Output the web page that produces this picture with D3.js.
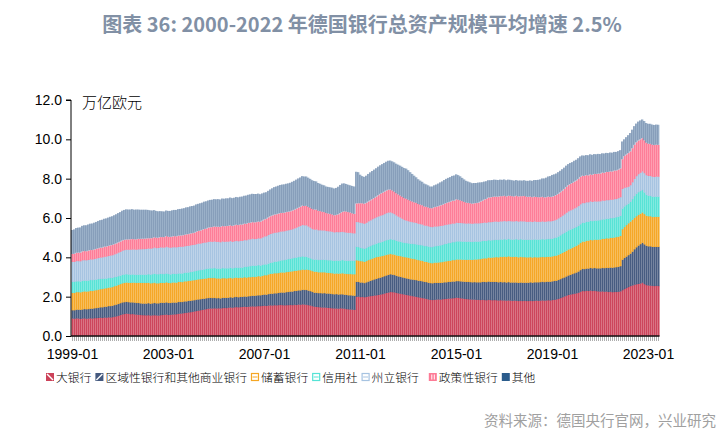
<!DOCTYPE html>
<html><head><meta charset="utf-8">
<script src="https://cdn.jsdelivr.net/npm/d3@7/dist/d3.min.js"></script>
<style>body{margin:0;background:#fff}svg{display:block}</style>
</head><body>
<svg id="c" width="724" height="443"></svg>
<script>
// ---------- DATA (万亿欧元, monthly, 1999-01 .. 2023-06) ----------
const firstMonth = "1999-01";
const monthCount = 294;
const xTickLabels = ["1999-01","2003-01","2007-01","2011-01","2015-01","2019-01","2023-01"];
const yTickValues = [0,2,4,6,8,10,12];
const seriesNames = ["大银行","区域性银行和其他商业银行","储蓄银行","信用社","州立银行","政策性银行","其他"];
const seriesColors = ["#cc4259","#44597f","#f5a623","#55e3d6","#a6c3e1","#fd7b96","#46678f"];

const bigBanks = [
.90,.89,.91,.90,.88,.90,.91,.89,.90,.91,.90,.92,
.92,.93,.94,.93,.95,.94,.96,.95,.97,.99,1.01,1.04,
1.08,1.11,1.13,1.15,1.14,1.12,1.13,1.11,1.10,1.09,1.08,1.07,
1.07,1.06,1.07,1.05,1.06,1.07,1.06,1.05,1.07,1.08,1.09,1.10,
1.08,1.09,1.10,1.11,1.12,1.14,1.15,1.16,1.18,1.19,1.21,1.22,
1.24,1.26,1.28,1.30,1.32,1.34,1.36,1.38,1.40,1.41,1.41,1.42,
1.41,1.42,1.41,1.43,1.44,1.43,1.45,1.46,1.45,1.47,1.48,1.47,
1.48,1.49,1.50,1.49,1.50,1.51,1.52,1.51,1.52,1.53,1.53,1.54,
1.55,1.54,1.56,1.57,1.56,1.58,1.57,1.58,1.59,1.58,1.57,1.58,
1.58,1.59,1.58,1.60,1.59,1.61,1.60,1.62,1.61,1.60,1.58,1.56,
1.53,1.50,1.49,1.48,1.47,1.46,1.46,1.45,1.44,1.43,1.42,1.41,
1.41,1.40,1.42,1.41,1.40,1.38,1.37,1.36,1.35,1.34,2.00,2.01,
1.99,2.00,1.98,2.00,2.02,2.04,2.05,2.07,2.08,2.10,2.12,2.14,
2.17,2.20,2.22,2.25,2.24,2.23,2.20,2.18,2.16,2.14,2.12,2.10,
2.08,2.06,2.04,2.02,2.00,1.98,1.96,1.94,1.92,1.90,1.87,1.85,
1.84,1.85,1.86,1.87,1.86,1.88,1.89,1.90,1.91,1.92,1.93,1.94,
1.96,1.95,1.93,1.92,1.90,1.89,1.88,1.87,1.86,1.86,1.85,1.85,
1.84,1.85,1.84,1.83,1.85,1.84,1.83,1.84,1.83,1.82,1.83,1.82,
1.82,1.81,1.82,1.81,1.80,1.81,1.80,1.79,1.80,1.79,1.80,1.79,
1.79,1.80,1.79,1.80,1.81,1.80,1.81,1.82,1.81,1.82,1.83,1.82,
1.84,1.85,1.87,1.90,1.94,1.98,2.02,2.06,2.10,2.12,2.14,2.16,
2.18,2.21,2.26,2.30,2.29,2.31,2.30,2.32,2.30,2.31,2.29,2.28,
2.27,2.28,2.26,2.27,2.25,2.26,2.24,2.25,2.25,2.26,2.28,2.34,
2.40,2.45,2.50,2.55,2.58,2.62,2.64,2.66,2.68,2.72,2.65,2.60,
2.58,2.57,2.56,2.55,2.56,2.55];

const regionalBanks = [
.42,.43,.44,.45,.46,.46,.47,.48,.48,.49,.50,.50,
.51,.52,.53,.54,.55,.56,.57,.58,.58,.59,.60,.60,
.60,.61,.60,.60,.59,.60,.59,.60,.59,.60,.59,.59,
.59,.60,.61,.60,.61,.62,.61,.62,.63,.62,.61,.62,
.61,.60,.61,.60,.59,.60,.59,.58,.59,.58,.59,.58,
.58,.57,.58,.57,.56,.56,.55,.55,.54,.54,.53,.53,
.52,.52,.51,.52,.51,.52,.51,.52,.51,.52,.52,.51,
.52,.51,.52,.52,.53,.53,.54,.54,.55,.55,.55,.56,
.57,.57,.58,.59,.60,.60,.61,.62,.63,.64,.65,.66,
.67,.68,.69,.70,.71,.72,.73,.74,.74,.75,.74,.73,
.72,.71,.72,.71,.72,.72,.73,.72,.73,.73,.72,.72,
.73,.72,.71,.72,.71,.72,.71,.72,.72,.72,.76,.75,
.74,.73,.72,.74,.76,.78,.80,.82,.84,.85,.86,.87,
.88,.89,.90,.90,.89,.88,.87,.86,.86,.85,.84,.84,
.84,.83,.84,.84,.85,.84,.85,.85,.84,.85,.85,.85,
.85,.86,.85,.84,.85,.84,.85,.84,.85,.84,.85,.84,
.84,.85,.86,.86,.87,.87,.88,.88,.88,.89,.89,.89,
.90,.91,.92,.92,.93,.92,.93,.92,.93,.92,.93,.92,
.93,.92,.93,.92,.93,.92,.93,.92,.93,.93,.92,.93,
.93,.94,.93,.94,.93,.94,.94,.95,.94,.95,.94,.95,
.95,.96,.95,.96,.96,.97,.97,.98,.99,1.00,1.02,1.04,
1.06,1.08,1.10,1.12,1.12,1.13,1.14,1.15,1.15,1.16,1.16,1.17,
1.18,1.19,1.20,1.21,1.22,1.23,1.24,1.25,1.26,1.27,1.28,1.55,
1.58,1.60,1.62,1.65,1.72,1.80,1.88,1.95,2.00,2.03,2.02,2.00,
1.99,2.00,1.98,1.99,1.98,1.99];

const savingsBanks = [
.88,.88,.89,.89,.89,.90,.90,.90,.90,.91,.90,.91,
.91,.92,.92,.93,.93,.94,.94,.95,.95,.96,.96,.97,
.97,.97,.98,.98,.99,.99,1.00,1.01,1.02,1.03,1.04,1.05,
1.05,1.05,1.04,1.04,1.03,1.03,1.02,1.02,1.01,1.01,1.01,1.02,
1.02,1.01,1.02,1.02,1.01,1.02,1.02,1.01,1.02,1.02,1.01,1.02,
1.02,1.02,1.01,1.02,1.02,1.01,1.02,1.01,1.02,1.01,1.02,1.01,
1.01,1.00,1.01,1.00,1.00,.99,.99,.99,.98,.98,.98,.98,
.98,.97,.98,.97,.97,.96,.96,.96,.96,.97,.96,.97,
.98,.99,1.00,1.01,1.02,1.02,1.02,1.01,1.02,1.02,1.02,1.02,
1.02,1.02,1.03,1.02,1.03,1.02,1.03,1.03,1.02,1.04,1.05,1.06,
1.06,1.07,1.07,1.06,1.06,1.07,1.06,1.06,1.05,1.05,1.06,1.05,
1.05,1.06,1.06,1.07,1.07,1.07,1.08,1.08,1.08,1.09,1.10,1.09,
1.09,1.08,1.08,1.08,1.09,1.09,1.10,1.10,1.10,1.09,1.08,1.07,
1.06,1.05,1.04,1.03,1.03,1.04,1.04,1.05,1.05,1.06,1.06,1.07,
1.07,1.07,1.06,1.06,1.05,1.05,1.04,1.04,1.03,1.03,1.03,1.02,
1.02,1.03,1.03,1.04,1.05,1.05,1.06,1.07,1.07,1.08,1.09,1.09,
1.10,1.10,1.11,1.11,1.12,1.12,1.13,1.14,1.14,1.15,1.16,1.17,
1.18,1.19,1.20,1.21,1.22,1.23,1.24,1.25,1.26,1.27,1.28,1.29,
1.30,1.30,1.31,1.31,1.30,1.31,1.31,1.30,1.31,1.30,1.30,1.29,
1.29,1.28,1.28,1.28,1.27,1.27,1.27,1.26,1.27,1.26,1.27,1.27,
1.27,1.27,1.28,1.28,1.29,1.29,1.30,1.31,1.32,1.33,1.34,1.35,
1.36,1.37,1.38,1.39,1.40,1.41,1.42,1.43,1.43,1.44,1.45,1.46,
1.47,1.48,1.49,1.50,1.50,1.51,1.52,1.52,1.53,1.53,1.54,1.55,
1.57,1.60,1.62,1.63,1.62,1.60,1.58,1.56,1.55,1.54,1.54,1.53,
1.53,1.53,1.52,1.53,1.53,1.53];

const creditCoops = [
.56,.56,.55,.55,.55,.56,.55,.55,.55,.55,.55,.54,
.54,.53,.52,.51,.50,.49,.48,.48,.47,.46,.45,.44,
.43,.43,.43,.42,.42,.42,.42,.41,.41,.41,.42,.42,
.42,.42,.43,.44,.45,.46,.46,.46,.46,.45,.45,.45,
.45,.44,.44,.44,.44,.43,.43,.44,.43,.44,.43,.44,
.44,.45,.45,.46,.46,.47,.47,.48,.48,.49,.49,.50,
.50,.50,.50,.51,.50,.51,.50,.51,.51,.50,.51,.51,
.51,.52,.53,.54,.55,.56,.57,.57,.56,.56,.55,.55,
.55,.55,.55,.56,.57,.58,.59,.60,.61,.62,.63,.64,
.65,.65,.66,.66,.67,.67,.67,.67,.66,.65,.63,.61,
.60,.61,.62,.62,.63,.63,.64,.64,.64,.65,.65,.65,
.66,.66,.66,.67,.67,.67,.67,.68,.68,.68,.68,.68,
.67,.66,.66,.66,.67,.67,.68,.68,.69,.70,.71,.72,
.73,.74,.75,.75,.75,.74,.74,.73,.73,.72,.72,.72,
.73,.74,.75,.76,.77,.77,.78,.79,.79,.80,.81,.81,
.82,.83,.84,.85,.86,.87,.88,.89,.90,.90,.91,.91,
.92,.92,.92,.92,.92,.92,.92,.91,.91,.91,.91,.90,
.90,.89,.89,.88,.88,.88,.88,.88,.88,.88,.88,.88,
.88,.88,.88,.88,.88,.88,.89,.89,.89,.89,.89,.89,
.89,.89,.90,.90,.90,.90,.90,.90,.90,.90,.90,.90,
.90,.91,.92,.93,.94,.95,.96,.97,.97,.97,.96,.96,
.95,.95,.95,.95,.96,.96,.96,.97,.97,.97,.98,.98,
.98,.99,.99,.99,1.00,1.00,1.00,1.01,1.01,1.02,1.02,1.05,
1.05,1.02,1.00,1.00,1.05,1.10,1.14,1.15,1.15,1.14,1.10,1.06,
1.04,1.03,1.03,1.02,1.03,1.02];

const landesbanks = [
1.02,1.02,1.03,1.03,1.03,1.04,1.04,1.04,1.05,1.05,1.05,1.06,
1.07,1.08,1.09,1.10,1.11,1.12,1.13,1.14,1.15,1.16,1.18,1.20,
1.21,1.23,1.24,1.25,1.26,1.27,1.27,1.28,1.28,1.29,1.29,1.30,
1.30,1.31,1.31,1.32,1.32,1.33,1.33,1.34,1.35,1.35,1.35,1.36,
1.36,1.36,1.35,1.36,1.36,1.35,1.36,1.36,1.35,1.36,1.36,1.36,
1.36,1.35,1.36,1.36,1.35,1.36,1.36,1.35,1.36,1.36,1.35,1.36,
1.36,1.36,1.35,1.36,1.35,1.36,1.36,1.36,1.35,1.36,1.36,1.36,
1.36,1.36,1.36,1.36,1.37,1.37,1.37,1.36,1.36,1.37,1.38,1.40,
1.42,1.44,1.46,1.47,1.48,1.48,1.48,1.48,1.47,1.47,1.47,1.47,
1.47,1.47,1.48,1.50,1.52,1.55,1.58,1.60,1.61,1.60,1.58,1.56,
1.54,1.53,1.53,1.52,1.51,1.50,1.49,1.48,1.48,1.47,1.46,1.45,
1.45,1.45,1.45,1.44,1.44,1.43,1.43,1.42,1.41,1.40,1.27,1.27,
1.28,1.28,1.28,1.29,1.30,1.31,1.32,1.33,1.34,1.35,1.36,1.36,
1.37,1.38,1.38,1.37,1.35,1.32,1.29,1.26,1.23,1.20,1.17,1.15,
1.13,1.12,1.11,1.10,1.09,1.08,1.07,1.06,1.05,1.04,1.03,1.03,
1.02,1.01,1.00,.99,.99,.98,.97,.97,.96,.96,.95,.95,
.95,.94,.94,.94,.93,.93,.93,.93,.93,.93,.93,.93,
.93,.92,.93,.93,.92,.93,.93,.94,.93,.93,.92,.93,
.93,.93,.92,.93,.93,.92,.93,.93,.92,.93,.93,.92,
.92,.92,.91,.92,.91,.91,.90,.91,.90,.90,.91,.90,
.90,.90,.91,.92,.93,.94,.95,.96,.97,.98,.98,.99,
1.00,1.01,1.02,1.01,1.00,1.00,.99,.99,.98,.98,.97,.97,
.96,.96,.95,.95,.95,.94,.94,.94,.93,.94,.95,1.00,
.95,.90,.86,.85,.86,.88,.90,.92,.93,.95,.98,1.00,
1.01,1.02,1.02,1.01,1.02,1.02];

const policyBanks = [
.39,.40,.41,.42,.43,.44,.45,.45,.46,.46,.47,.47,
.48,.48,.49,.49,.50,.50,.50,.51,.51,.51,.51,.51,
.51,.51,.51,.51,.51,.52,.52,.51,.52,.52,.52,.52,
.52,.52,.51,.52,.51,.51,.52,.51,.51,.52,.52,.53,
.53,.54,.54,.55,.55,.56,.56,.57,.57,.58,.58,.59,
.59,.60,.62,.63,.65,.66,.68,.69,.71,.72,.74,.75,
.76,.76,.77,.77,.78,.78,.79,.79,.80,.80,.81,.81,
.82,.82,.82,.83,.83,.83,.83,.84,.84,.84,.84,.85,
.86,.87,.88,.89,.90,.91,.92,.93,.93,.93,.93,.93,
.93,.93,.94,.94,.95,.95,.96,.97,.97,.98,.99,1.00,
1.01,1.01,1.00,.98,.96,.94,.92,.90,.89,.88,.87,.86,
.86,.90,.95,1.00,1.05,1.06,1.04,1.02,1.00,.98,.93,.95,
.98,1.00,1.01,1.00,1.00,1.01,1.01,1.02,1.04,1.07,1.10,1.12,
1.13,1.14,1.15,1.15,1.14,1.13,1.12,1.12,1.11,1.11,1.10,1.10,
1.08,1.06,1.04,1.02,1.01,.99,.98,.97,.96,.95,.95,.94,
.95,.97,.99,1.01,1.03,1.05,1.07,1.09,1.11,1.13,1.15,1.16,
1.18,1.17,1.14,1.11,1.08,1.05,1.03,1.02,1.01,1.01,1.02,1.04,
1.08,1.12,1.16,1.20,1.24,1.25,1.26,1.26,1.26,1.27,1.27,1.27,
1.27,1.26,1.27,1.28,1.27,1.26,1.27,1.27,1.26,1.27,1.28,1.27,
1.26,1.26,1.25,1.25,1.25,1.24,1.24,1.24,1.23,1.23,1.24,1.23,
1.23,1.23,1.24,1.24,1.25,1.26,1.28,1.30,1.32,1.33,1.34,1.35,
1.36,1.37,1.38,1.38,1.37,1.37,1.36,1.36,1.37,1.38,1.39,1.40,
1.40,1.41,1.41,1.42,1.42,1.43,1.43,1.44,1.44,1.44,1.45,1.50,
1.60,1.66,1.70,1.71,1.72,1.72,1.71,1.70,1.69,1.68,1.66,1.64,
1.63,1.62,1.62,1.61,1.61,1.61];

const others = [
1.22,1.24,1.26,1.27,1.28,1.30,1.31,1.32,1.33,1.34,1.35,1.36,
1.37,1.39,1.40,1.41,1.42,1.43,1.44,1.45,1.46,1.47,1.48,1.49,
1.50,1.51,1.52,1.53,1.52,1.51,1.52,1.50,1.51,1.49,1.48,1.47,
1.47,1.46,1.44,1.42,1.40,1.38,1.36,1.34,1.32,1.31,1.30,1.30,
1.31,1.32,1.33,1.33,1.34,1.35,1.35,1.36,1.36,1.37,1.37,1.38,
1.38,1.38,1.39,1.38,1.39,1.38,1.39,1.39,1.38,1.39,1.39,1.39,
1.39,1.40,1.39,1.40,1.40,1.41,1.40,1.41,1.41,1.40,1.41,1.41,
1.41,1.42,1.42,1.43,1.43,1.44,1.44,1.44,1.43,1.42,1.40,1.38,
1.36,1.35,1.35,1.36,1.38,1.40,1.41,1.42,1.43,1.44,1.44,1.44,
1.44,1.45,1.46,1.47,1.48,1.49,1.49,1.50,1.50,1.49,1.48,1.47,
1.46,1.45,1.43,1.41,1.39,1.37,1.36,1.35,1.35,1.35,1.36,1.36,
1.37,1.40,1.43,1.44,1.42,1.40,1.39,1.38,1.39,1.39,1.61,1.58,
1.45,1.38,1.36,1.38,1.40,1.42,1.43,1.44,1.44,1.45,1.45,1.46,
1.46,1.46,1.47,1.47,1.48,1.49,1.50,1.51,1.52,1.52,1.53,1.53,
1.50,1.45,1.40,1.35,1.30,1.26,1.22,1.19,1.16,1.14,1.12,1.10,
1.10,1.11,1.13,1.15,1.17,1.19,1.21,1.23,1.24,1.25,1.26,1.27,
1.27,1.25,1.22,1.18,1.14,1.11,1.08,1.06,1.04,1.03,1.02,1.02,
.98,.94,.91,.90,.88,.87,.86,.86,.85,.84,.84,.83,
.83,.82,.82,.81,.81,.80,.80,.80,.80,.79,.80,.80,
.81,.82,.83,.84,.86,.88,.90,.93,.96,.99,1.02,1.06,
1.10,1.10,1.09,1.10,1.09,1.09,1.08,1.08,1.07,1.07,1.06,1.06,
1.05,1.05,1.04,1.03,1.03,1.02,1.02,1.02,1.01,1.01,1.00,1.00,
.99,.98,.98,.97,.96,.96,.95,.95,.94,.94,.93,.90,
.85,.88,.91,.93,.94,.95,.95,.96,.96,.95,.98,1.00,
1.01,1.02,1.02,1.02,1.02,1.02];

// ---------- BUILD ----------
const seriesValues = [bigBanks, regionalBanks, savingsBanks, creditCoops, landesbanks, policyBanks, others];
const months = d3.range(monthCount).map(i => {
  const yr = +firstMonth.slice(0,4) + Math.floor(i/12), mo = i % 12 + 1;
  return yr + "-" + (mo < 10 ? "0" : "") + mo;
});
const rows = months.map((mo, i) => {
  const r = {month: mo};
  seriesNames.forEach((n, k) => r[n] = seriesValues[k][i]);
  return r;
});

const svg = d3.select("#c");
const W = 724, H = 443;
const pLeft = 71, pRight = 659.5, pTop = 100, pBottom = 336;

const x = d3.scaleBand().domain(months).range([pLeft + 0.5, pRight]).padding(0);
const y = d3.scaleLinear().domain([0, 12]).range([pBottom, pTop]);
const stacked = d3.stack().keys(seriesNames)(rows);
const bw = x.bandwidth();

// bars
const gBars = svg.append("g");
stacked.forEach((layer, k) => {
  const isTop = k === seriesNames.length - 1;
  const g = gBars.append("g");
  if (isTop) {
    g.selectAll("rect.bg").data(layer).join("rect").attr("class","bg")
      .attr("x", d => x(d.data.month)).attr("width", bw + 0.05)
      .attr("y", d => y(d[1])).attr("height", d => y(d[0]) - y(d[1]))
      .attr("fill", "#b9cadd");
    g.selectAll("rect.fg").data(layer).join("rect").attr("class","fg")
      .attr("x", d => x(d.data.month)).attr("width", bw * 0.38)
      .attr("y", d => y(d[1])).attr("height", d => y(d[0]) - y(d[1]))
      .attr("fill", seriesColors[k]);
  } else {
    g.selectAll("rect").data(layer).join("rect")
      .attr("x", d => x(d.data.month)).attr("width", bw + 0.05)
      .attr("y", d => y(d[1])).attr("height", d => y(d[0]) - y(d[1]) + 0.3)
      .attr("fill", seriesColors[k]);
    g.selectAll("line").data(layer).join("line")
      .attr("x1", d => x(d.data.month) + 0.25).attr("x2", d => x(d.data.month) + 0.25)
      .attr("y1", d => y(d[1])).attr("y2", d => y(d[0]))
      .attr("stroke", "#fff").attr("stroke-opacity", 0.16).attr("stroke-width", 0.5);
  }
});

// x axis: dense category ticks
const xAxis = svg.append("g").attr("transform", `translate(0,${pBottom})`)
  .call(d3.axisBottom(x).tickValues(months).tickSize(5).tickFormat(""));
xAxis.select(".domain").remove();
xAxis.selectAll(".tick line").attr("stroke", "#777").attr("stroke-width", 0.6);
svg.append("line").attr("x1", pLeft).attr("x2", pRight).attr("y1", pBottom).attr("y2", pBottom)
  .attr("stroke", "#111").attr("stroke-width", 1.6);

svg.append("g").selectAll("text").data(xTickLabels).join("text")
  .attr("x", d => x(d) + bw / 2).attr("y", 359)
  .attr("text-anchor", "middle")
  .attr("font-family", "Liberation Sans, Arial, sans-serif").attr("font-size", 14)
  .attr("fill", "#000").text(d => d);

// y axis
const yAxis = svg.append("g").attr("transform", `translate(${pLeft},0)`)
  .call(d3.axisLeft(y).tickValues(yTickValues).tickSize(5).tickFormat(d3.format(".1f")));
yAxis.select(".domain").attr("stroke", "#000").attr("d", `M-5,${pTop}H0V${pBottom}`);
yAxis.selectAll(".tick line").attr("stroke", "#000");
yAxis.selectAll(".tick text").attr("x", -9)
  .attr("font-family", "Liberation Sans, Arial, sans-serif").attr("font-size", 14).attr("fill", "#000");

// unit
svg.append("text").attr("x", 82).attr("y", 108)
  .attr("font-family", "Noto Sans CJK SC, sans-serif").attr("font-size", 15).attr("font-weight", 300).attr("fill", "#000")
  .text("万亿欧元");

// title
svg.append("text").attr("x", W / 2).attr("y", 32).attr("text-anchor", "middle")
  .attr("font-family", "Noto Sans CJK SC, sans-serif").attr("font-size", 20).attr("font-weight", "bold")
  .attr("fill", "#8190a5")
  .text("图表 36: 2000-2022 年德国银行总资产规模平均增速 2.5%");

// legend
const lg = svg.append("g");
let lx = 46;
const ly = 373;
seriesNames.forEach((n, k) => {
  const c = seriesColors[k];
  const m = lg.append("g").attr("transform", `translate(${lx},${ly})`);
  const s = 8;
  if (k === 0) {
    m.append("rect").attr("width", s).attr("height", s).attr("fill", c);
    m.append("line").attr("x1", 1).attr("y1", 1).attr("x2", s - 1).attr("y2", s - 1).attr("stroke", "#fff").attr("stroke-width", 1.4);
  } else if (k === 1) {
    m.append("rect").attr("width", s).attr("height", s).attr("fill", c);
    m.append("line").attr("x1", 1).attr("y1", s - 1).attr("x2", s - 1).attr("y2", 1).attr("stroke", "#fff").attr("stroke-width", 1.4);
  } else if (k === 2 || k === 3 || k === 4) {
    m.append("rect").attr("x", 0.5).attr("y", 0.5).attr("width", s - 1).attr("height", s - 1)
      .attr("fill", "#fff").attr("stroke", c).attr("stroke-width", 1.2);
    m.append("line").attr("x1", 1.5).attr("x2", s - 1.5).attr("y1", s / 2).attr("y2", s / 2).attr("stroke", c).attr("stroke-width", 1);
  } else if (k === 5) {
    m.append("rect").attr("width", s).attr("height", s).attr("fill", c);
    m.append("line").attr("x1", 3).attr("x2", 3).attr("y1", 1.5).attr("y2", s - 1.5).attr("stroke", "#fff").attr("stroke-width", 1);
    m.append("line").attr("x1", 5.5).attr("x2", 5.5).attr("y1", 1.5).attr("y2", s - 1.5).attr("stroke", "#fff").attr("stroke-width", 1);
  } else {
    m.append("rect").attr("width", s).attr("height", s).attr("fill", "#2b5c8c");
  }
  const t = lg.append("text").attr("x", lx + 10).attr("y", ly + 8.5)
    .attr("font-family", "Noto Sans CJK SC, sans-serif").attr("font-size", 11.8).attr("font-weight", 300).attr("fill", "#000")
    .text(n);
  lx += 10 + t.node().getComputedTextLength() + (k === 4 ? 10 : 4);
});

// source
svg.append("text").attr("x", 716).attr("y", 426).attr("text-anchor", "end")
  .attr("font-family", "Noto Sans CJK SC, sans-serif").attr("font-size", 14.5).attr("fill", "#a0a0a0")
  .text("资料来源：德国央行官网，兴业研究");
</script>
</body></html>
